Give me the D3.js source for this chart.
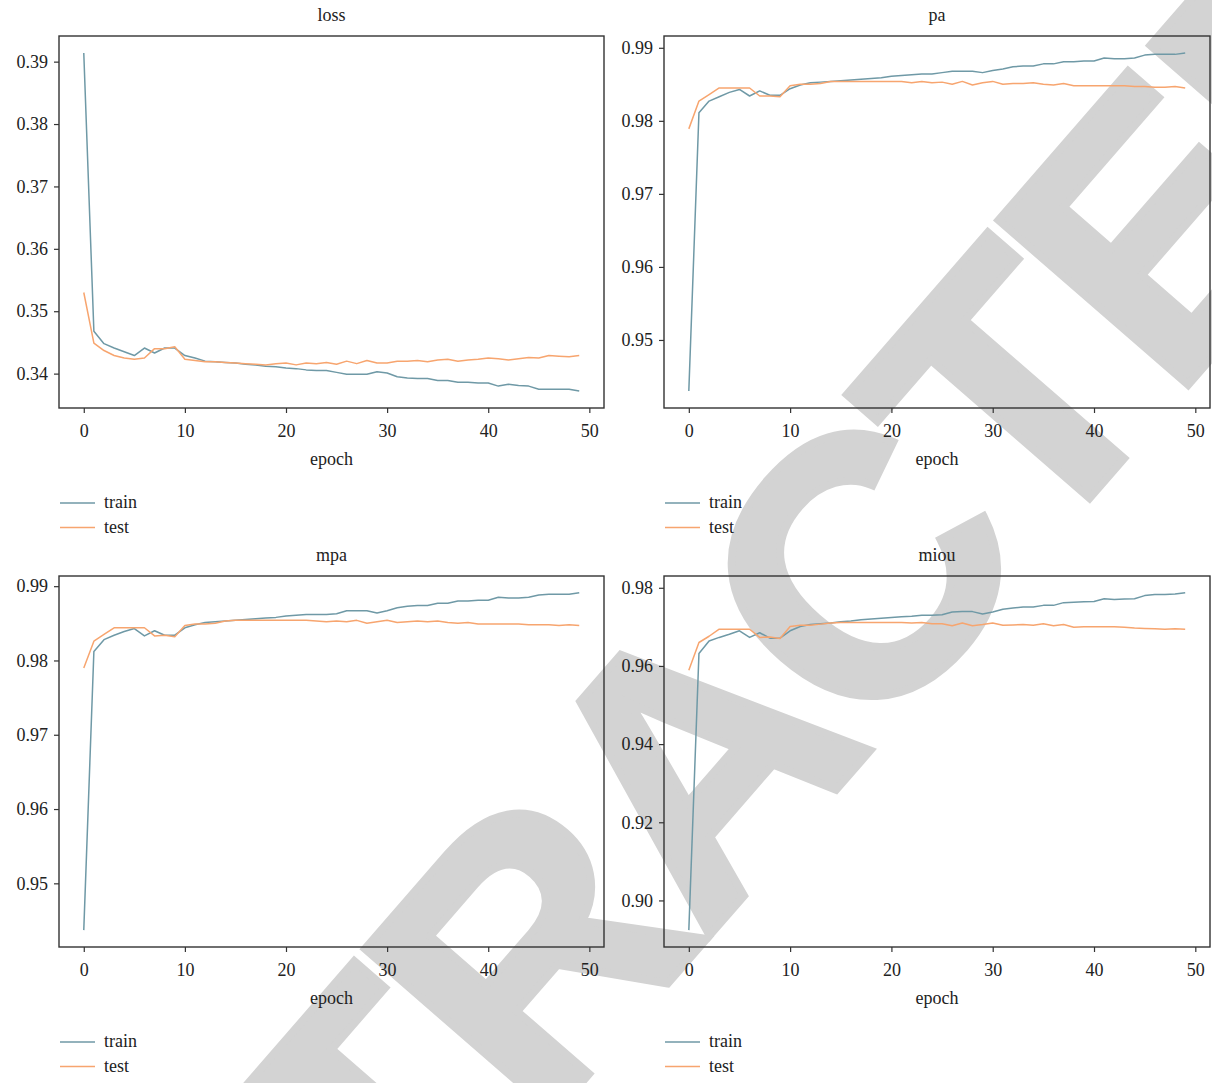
<!DOCTYPE html>
<html>
<head>
<meta charset="utf-8">
<script src="https://cdn.jsdelivr.net/npm/d3@7"></script>
<style>
  html, body { margin: 0; padding: 0; background: #fff; }
  svg { display: block; }
  text { font-family: "Liberation Serif", "DejaVu Serif", serif; fill: #222; }
</style>
</head>
<body>
<svg id="chart" width="1212" height="1083"></svg>
<script>
// ---------------- data ----------------
const epochs = [0,1,2,3,4,5,6,7,8,9,10,11,12,13,14,15,16,17,18,19,20,21,22,23,24,25,26,27,28,29,30,31,32,33,34,35,36,37,38,39,40,41,42,43,44,45,46,47,48,49];

const lossTrain = [0.3914,0.3468,0.3448,0.3441,0.3435,0.3429,0.3441,0.3433,0.3441,0.3441,
                   0.3429,0.3425,0.3420,0.3419,0.3418,0.3417,0.3415,0.3414,0.3412,0.3411,
                   0.3409,0.3408,0.3406,0.3405,0.3405,0.3402,0.3399,0.3399,0.3399,0.3403,
                   0.3401,0.3395,0.3393,0.3392,0.3392,0.3389,0.3389,0.3386,0.3386,0.3385,
                   0.3385,0.3380,0.3383,0.3381,0.3380,0.3375,0.3375,0.3375,0.3375,0.3372];
const lossTest  = [0.3530,0.3449,0.3437,0.3429,0.3425,0.3423,0.3425,0.3440,0.3440,0.3443,
                   0.3423,0.3421,0.3419,0.3419,0.3418,0.3417,0.3416,0.3415,0.3414,0.3416,
                   0.3417,0.3414,0.3417,0.3416,0.3418,0.3415,0.3420,0.3416,0.3421,0.3417,
                   0.3417,0.3420,0.3420,0.3421,0.3419,0.3422,0.3423,0.3420,0.3422,0.3423,
                   0.3425,0.3424,0.3422,0.3424,0.3426,0.3425,0.3429,0.3428,0.3427,0.3429];

const paTrain = [0.9430,0.9811,0.9827,0.9833,0.9839,0.9843,0.9834,0.9841,0.9835,0.9835,
                 0.9844,0.9849,0.9852,0.9853,0.9854,0.9855,0.9856,0.9857,0.9858,0.9859,
                 0.9861,0.9862,0.9863,0.9864,0.9864,0.9866,0.9868,0.9868,0.9868,0.9866,
                 0.9869,0.9871,0.9874,0.9875,0.9875,0.9878,0.9878,0.9881,0.9881,0.9882,
                 0.9882,0.9886,0.9885,0.9885,0.9886,0.9890,0.9891,0.9891,0.9891,0.9893];
const paTest  = [0.9789,0.9827,0.9836,0.9845,0.9845,0.9845,0.9845,0.9834,0.9834,0.9833,
                 0.9848,0.9850,0.9850,0.9851,0.9854,0.9854,0.9854,0.9854,0.9854,0.9854,
                 0.9854,0.9854,0.9852,0.9854,0.9852,0.9853,0.9850,0.9854,0.9849,0.9852,
                 0.9854,0.9850,0.9851,0.9851,0.9852,0.9850,0.9849,0.9851,0.9848,0.9848,
                 0.9848,0.9848,0.9848,0.9848,0.9847,0.9847,0.9846,0.9846,0.9847,0.9845];

const mpaTrain = [0.9437,0.9812,0.9828,0.9834,0.9839,0.9843,0.9833,0.9840,0.9834,0.9834,
                  0.9844,0.9848,0.9851,0.9852,0.9853,0.9854,0.9855,0.9856,0.9857,0.9858,
                  0.9860,0.9861,0.9862,0.9862,0.9862,0.9863,0.9867,0.9867,0.9867,0.9864,
                  0.9867,0.9871,0.9873,0.9874,0.9874,0.9877,0.9877,0.9880,0.9880,0.9881,
                  0.9881,0.9885,0.9884,0.9884,0.9885,0.9888,0.9889,0.9889,0.9889,0.9891];
const mpaTest  = [0.9790,0.9826,0.9835,0.9844,0.9844,0.9844,0.9844,0.9833,0.9834,0.9832,
                  0.9847,0.9849,0.9849,0.9850,0.9853,0.9854,0.9854,0.9854,0.9854,0.9854,
                  0.9854,0.9854,0.9854,0.9853,0.9852,0.9853,0.9852,0.9854,0.9850,0.9852,
                  0.9854,0.9851,0.9852,0.9853,0.9852,0.9853,0.9851,0.9850,0.9851,0.9849,
                  0.9849,0.9849,0.9849,0.9849,0.9848,0.9848,0.9848,0.9847,0.9848,0.9847];

const miouTrain = [0.8924,0.9632,0.9664,0.9673,0.9681,0.9690,0.9673,0.9685,0.9671,0.9671,
                   0.9690,0.9701,0.9706,0.9708,0.9710,0.9713,0.9715,0.9718,0.9720,0.9722,
                   0.9724,0.9726,0.9727,0.9730,0.9730,0.9731,0.9738,0.9739,0.9739,0.9733,
                   0.9738,0.9745,0.9748,0.9751,0.9751,0.9755,0.9755,0.9762,0.9763,0.9764,
                   0.9765,0.9772,0.9770,0.9771,0.9772,0.9780,0.9783,0.9783,0.9784,0.9787];
const miouTest  = [0.9589,0.9660,0.9676,0.9694,0.9694,0.9694,0.9694,0.9673,0.9674,0.9670,
                   0.9701,0.9704,0.9704,0.9707,0.9710,0.9711,0.9711,0.9711,0.9711,0.9711,
                   0.9711,0.9711,0.9710,0.9711,0.9708,0.9708,0.9703,0.9710,0.9703,0.9706,
                   0.9710,0.9704,0.9705,0.9706,0.9704,0.9708,0.9703,0.9706,0.9699,0.9700,
                   0.9700,0.9700,0.9700,0.9699,0.9697,0.9696,0.9695,0.9694,0.9695,0.9694];

const panelTitles = ["loss", "pa", "mpa", "miou"];
const xTickValues = [0, 10, 20, 30, 40, 50];
const yTickValues = [
  [0.34, 0.35, 0.36, 0.37, 0.38, 0.39],
  [0.95, 0.96, 0.97, 0.98, 0.99],
  [0.95, 0.96, 0.97, 0.98, 0.99],
  [0.90, 0.92, 0.94, 0.96, 0.98]
];
const yTickFormats = [".2f", ".2f", ".2f", ".2f"];
const seriesNames = ["train", "test"];
const trainSeries = [lossTrain, paTrain, mpaTrain, miouTrain];
const testSeries  = [lossTest, paTest, mpaTest, miouTest];
const watermarkText = "RETRACTED";

// ---------------- layout / style ----------------
const colors = { train: "#6f99a6", test: "#f7a56f" };
const boxes = [
  { x0: 59,  x1: 604,  y0: 36,  y1: 408 },
  { x0: 664, x1: 1210, y0: 36,  y1: 408 },
  { x0: 59,  x1: 604,  y0: 576, y1: 947 },
  { x0: 664, x1: 1210, y0: 576, y1: 947 }
];
const FS = 18;

const svg = d3.select("#chart");

// watermark behind everything
const wm = svg.append("g").attr("transform", "translate(688,762) rotate(-49)");
wm.append("text")
  .attr("x", 0).attr("y", 130)
  .attr("text-anchor", "middle")
  .style("font-family", "'Liberation Sans', Arial, sans-serif")
  .style("font-weight", "bold")
  .style("font-size", "365px")
  .style("letter-spacing", "-12px")
  .style("fill", "#d3d3d3")
  .style("stroke", "#d3d3d3")
  .style("stroke-width", "8px")
  .style("stroke-linejoin", "miter")
  .text(watermarkText);

function pad(ext) {
  const r = ext[1] - ext[0];
  return [ext[0] - 0.05 * r, ext[1] + 0.05 * r];
}

boxes.forEach((b, i) => {
  const g = svg.append("g");
  const xExt = d3.extent(epochs);
  const x = d3.scaleLinear().domain(pad(xExt)).range([b.x0, b.x1]);
  const yExt = d3.extent(trainSeries[i].concat(testSeries[i]));
  const y = d3.scaleLinear().domain(pad(yExt)).range([b.y1, b.y0]);

  // title
  g.append("text")
    .attr("x", (b.x0 + b.x1) / 2).attr("y", b.y0 - 15)
    .attr("text-anchor", "middle")
    .style("font-size", FS + "px")
    .text(panelTitles[i]);

  // lines
  const line = d3.line().x((d, j) => x(epochs[j])).y(d => y(d));
  g.append("path").datum(trainSeries[i])
    .attr("d", line).attr("fill", "none")
    .attr("stroke", colors.train).attr("stroke-width", 1.5)
    .attr("stroke-linejoin", "round");
  g.append("path").datum(testSeries[i])
    .attr("d", line).attr("fill", "none")
    .attr("stroke", colors.test).attr("stroke-width", 1.5)
    .attr("stroke-linejoin", "round");

  // axes
  const xAxis = d3.axisBottom(x).tickValues(xTickValues).tickSize(5).tickPadding(11).tickFormat(d3.format("d"));
  const yAxis = d3.axisLeft(y).tickValues(yTickValues[i]).tickSize(5).tickPadding(6).tickFormat(d3.format(yTickFormats[i]));
  const gx = g.append("g").attr("transform", `translate(0,${b.y1})`).call(xAxis);
  const gy = g.append("g").attr("transform", `translate(${b.x0},0)`).call(yAxis);
  [gx, gy].forEach(a => {
    a.select(".domain").remove();
    a.selectAll(".tick line").attr("stroke", "#333").attr("stroke-width", 1.2);
    a.selectAll(".tick text")
      .style("font-family", "'Liberation Serif', 'DejaVu Serif', serif")
      .style("font-size", FS + "px").attr("fill", "#222");
  });

  // frame
  g.append("rect")
    .attr("x", b.x0).attr("y", b.y0)
    .attr("width", b.x1 - b.x0).attr("height", b.y1 - b.y0)
    .attr("fill", "none").attr("stroke", "#333").attr("stroke-width", 1.4);

  // x label
  g.append("text")
    .attr("x", (b.x0 + b.x1) / 2).attr("y", b.y1 + 57)
    .attr("text-anchor", "middle")
    .style("font-size", FS + "px")
    .text("epoch");

  // legend
  seriesNames.forEach((s, k) => {
    const ly = b.y1 + 95 + k * 24.5;
    g.append("line")
      .attr("x1", b.x0 + 1).attr("x2", b.x0 + 36)
      .attr("y1", ly).attr("y2", ly)
      .attr("stroke", colors[s]).attr("stroke-width", 1.5);
    g.append("text")
      .attr("x", b.x0 + 45).attr("y", ly + 5)
      .style("font-size", FS + "px")
      .text(s);
  });
});
</script>
</body>
</html>
